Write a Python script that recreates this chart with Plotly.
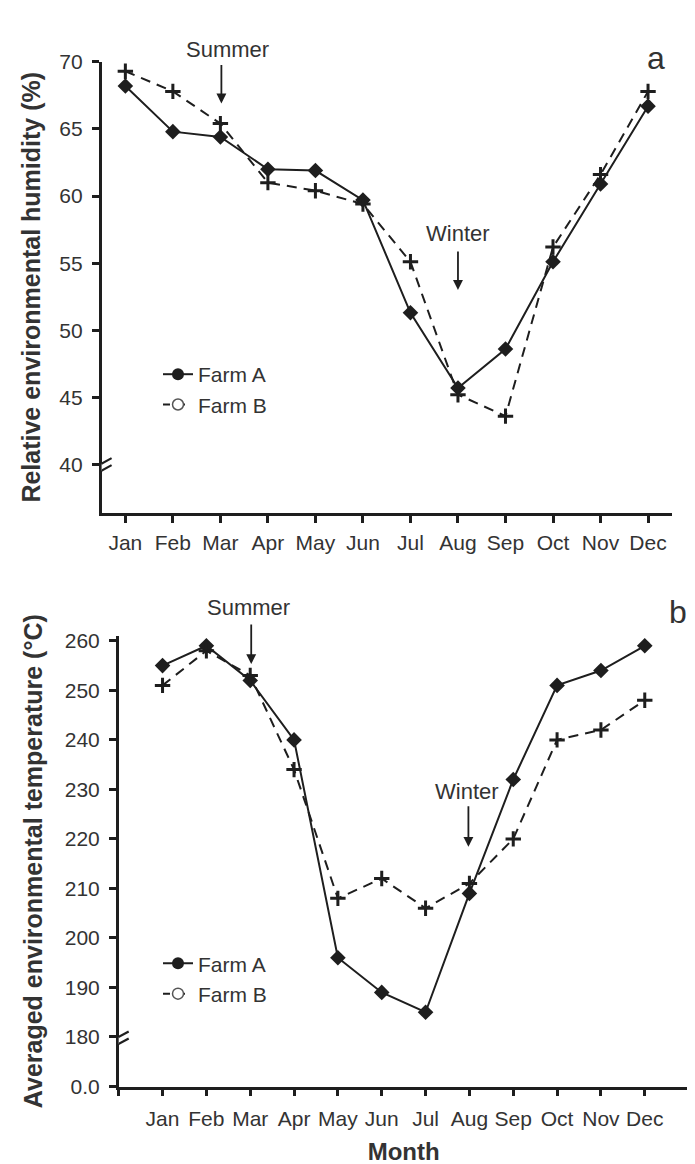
import plotly.graph_objects as go

# ---------------- data ----------------
months = ["Jan", "Feb", "Mar", "Apr", "May", "Jun", "Jul", "Aug", "Sep", "Oct", "Nov", "Dec"]
humidity_farm_a = [68.2, 64.8, 64.4, 62.0, 61.9, 59.7, 51.3, 45.7, 48.6, 55.1, 60.9, 66.7]
humidity_farm_b = [69.3, 67.8, 65.4, 61.0, 60.4, 59.4, 55.1, 45.2, 43.6, 56.2, 61.6, 67.8]
temp_farm_a = [255, 259, 252, 240, 196, 189, 185, 209, 232, 251, 254, 259]
temp_farm_b = [251, 258, 253, 234, 208, 212, 206, 211, 220, 240, 242, 248]
humidity_ticks = [40, 45, 50, 55, 60, 65, 70]
temp_ticks = [180, 190, 200, 210, 220, 230, 240, 250, 260]
temp_break_label = "0.0"
temp_break_value = 170

x_idx = list(range(len(months)))

# ---------------- style ----------------
W, H = 695, 1164
FONT = "Liberation Sans, Arial, sans-serif"
TXT = "#333333"
LINE = "#1e1e1e"

def px_x(p):
    return p / W

def px_y(p):
    return 1 - p / H

fig = go.Figure()

def add_series(xa, ya, a_vals, b_vals):
    fig.add_trace(go.Scatter(
        x=x_idx, y=a_vals, mode="lines+markers", showlegend=False,
        line=dict(color=LINE, width=2),
        marker=dict(symbol="diamond", size=12, color=LINE),
        xaxis=xa, yaxis=ya, cliponaxis=False, name="Farm A"))
    fig.add_trace(go.Scatter(
        x=x_idx, y=b_vals, mode="lines+markers", showlegend=False,
        line=dict(color=LINE, width=2, dash="10px,7px"),
        marker=dict(symbol="cross-thin", size=11, color=LINE,
                    line=dict(color=LINE, width=3)),
        xaxis=xa, yaxis=ya, cliponaxis=False, name="Farm B"))

add_series("x", "y", humidity_farm_a, humidity_farm_b)
add_series("x2", "y2", temp_farm_a, temp_farm_b)

# legend entries (as in the reference: filled / open circles)
for xa, ya, lg in (("x", "y", "legend"), ("x2", "y2", "legend2")):
    fig.add_trace(go.Scatter(
        x=[None], y=[None], mode="lines+markers", name="Farm A", legend=lg,
        line=dict(color=LINE, width=2),
        marker=dict(symbol="circle", size=12, color=LINE),
        xaxis=xa, yaxis=ya))
    fig.add_trace(go.Scatter(
        x=[None], y=[None], mode="lines+markers", name="Farm B", legend=lg,
        line=dict(color=LINE, width=2, dash="7px,8px"),
        marker=dict(symbol="circle", size=11, color="white",
                    line=dict(width=1.5, color="#555555")),
        xaxis=xa, yaxis=ya))

axis_common = dict(
    showgrid=False, zeroline=False, showline=True, linecolor=LINE, linewidth=2.5,
    ticks="outside", ticklen=7, tickwidth=2.5, tickcolor=LINE,
    tickfont=dict(family=FONT, size=21, color=TXT),
)

fig.update_layout(
    width=W, height=H,
    margin=dict(l=0, r=0, t=0, b=0),
    paper_bgcolor="white", plot_bgcolor="white",
    font=dict(family=FONT, color=TXT),
    xaxis=dict(
        axis_common, domain=[px_x(93.6), px_x(663.8)], anchor="y",
        range=[-0.5, 11.5], tickvals=x_idx, ticktext=months, ticklabelstandoff=2,
    ),
    yaxis=dict(
        axis_common, domain=[px_y(502.7), px_y(42.7)], anchor="x",
        range=[36.4, 70], tickvals=humidity_ticks,
        ticktext=[str(t) for t in humidity_ticks], ticklabelstandoff=5,
        title=dict(text="<b>Relative environmental humidity (%)</b>", standoff=12,
                   font=dict(family=FONT, size=25, color=TXT)),
    ),
    xaxis2=dict(
        axis_common, domain=[px_x(110.7), px_x(680.6)], anchor="y2",
        range=[-1, 12], tickvals=[-1] + x_idx + [12], ticktext=[""] + months + [""],
        ticklabelstandoff=5,
        title=dict(text="<b>Month</b>", standoff=14,
                   font=dict(family=FONT, size=24, color=TXT)),
    ),
    yaxis2=dict(
        axis_common, domain=[px_y(1088), px_y(628.3)], anchor="x2",
        range=[170, 261], tickvals=[temp_break_value] + temp_ticks,
        ticktext=[temp_break_label] + [str(t) for t in temp_ticks], ticklabelstandoff=5,
        title=dict(text="<b>Averaged environmental temperature (°C)</b>", standoff=15,
                   font=dict(family=FONT, size=25, color=TXT)),
    ),
    legend=dict(x=px_x(150), xanchor="left", y=px_y(377), yanchor="middle",
                bgcolor="rgba(0,0,0,0)", font=dict(family=FONT, size=21, color=TXT),
                tracegroupgap=0),
    legend2=dict(x=px_x(150), xanchor="left", y=px_y(978), yanchor="middle",
                 bgcolor="rgba(0,0,0,0)", font=dict(family=FONT, size=21, color=TXT),
                 tracegroupgap=0),
)

# axis break marks
def add_break(xref, yref, xanchor, yanchor):
    common = dict(type="line", xref=xref, yref=yref, xsizemode="pixel", ysizemode="pixel",
                  xanchor=xanchor, yanchor=yanchor, layer="above")
    fig.add_shape(**common, x0=-9, x1=9, y0=-5, y1=5, line=dict(color="white", width=6))
    fig.add_shape(**common, x0=-10, x1=10, y0=-2, y1=9, line=dict(color=LINE, width=2.2))
    fig.add_shape(**common, x0=-10, x1=10, y0=-9, y1=2, line=dict(color=LINE, width=2.2))

add_break("x", "y", -0.5, 39.8)
add_break("x2", "y2", -1, 179.3)

# season arrows and labels
def arrow(xref, yref, x, y_tip, dy, xshift=0):
    fig.add_annotation(x=x, y=y_tip, xref=xref, yref=yref, text="", showarrow=True,
                       ax=0, ay=-dy, arrowhead=2, arrowsize=1.1, arrowwidth=1.8,
                       arrowcolor=LINE, xshift=xshift)

def label(xref, yref, x, y, text, xshift=0, yshift=0):
    fig.add_annotation(x=x, y=y, xref=xref, yref=yref, text=text, showarrow=False,
                       font=dict(family=FONT, size=22, color=TXT),
                       xshift=xshift, yshift=yshift)

arrow("x", "y", 2, 66.9, 40, xshift=1)
label("x", "y", 2, 70, "Summer", xshift=7, yshift=12)
arrow("x", "y", 7, 53.0, 40)
label("x", "y", 7, 57.2, "Winter")

arrow("x2", "y2", 2, 255.3, 41, xshift=1)
label("x2", "y2", 2, 260, "Summer", xshift=-2, yshift=33)
arrow("x2", "y2", 7, 218.4, 42, xshift=-1)
label("x2", "y2", 7, 229.5, "Winter", xshift=-2)

# panel letters
fig.add_annotation(x=px_x(659), y=px_y(18), xref="paper", yref="paper", text="a",
                   showarrow=False, font=dict(family=FONT, size=32, color=TXT))
fig.add_annotation(x=px_x(681), y=px_y(604), xref="paper", yref="paper", text="b",
                   showarrow=False, font=dict(family=FONT, size=32, color=TXT))

fig.write_html("out.html")
